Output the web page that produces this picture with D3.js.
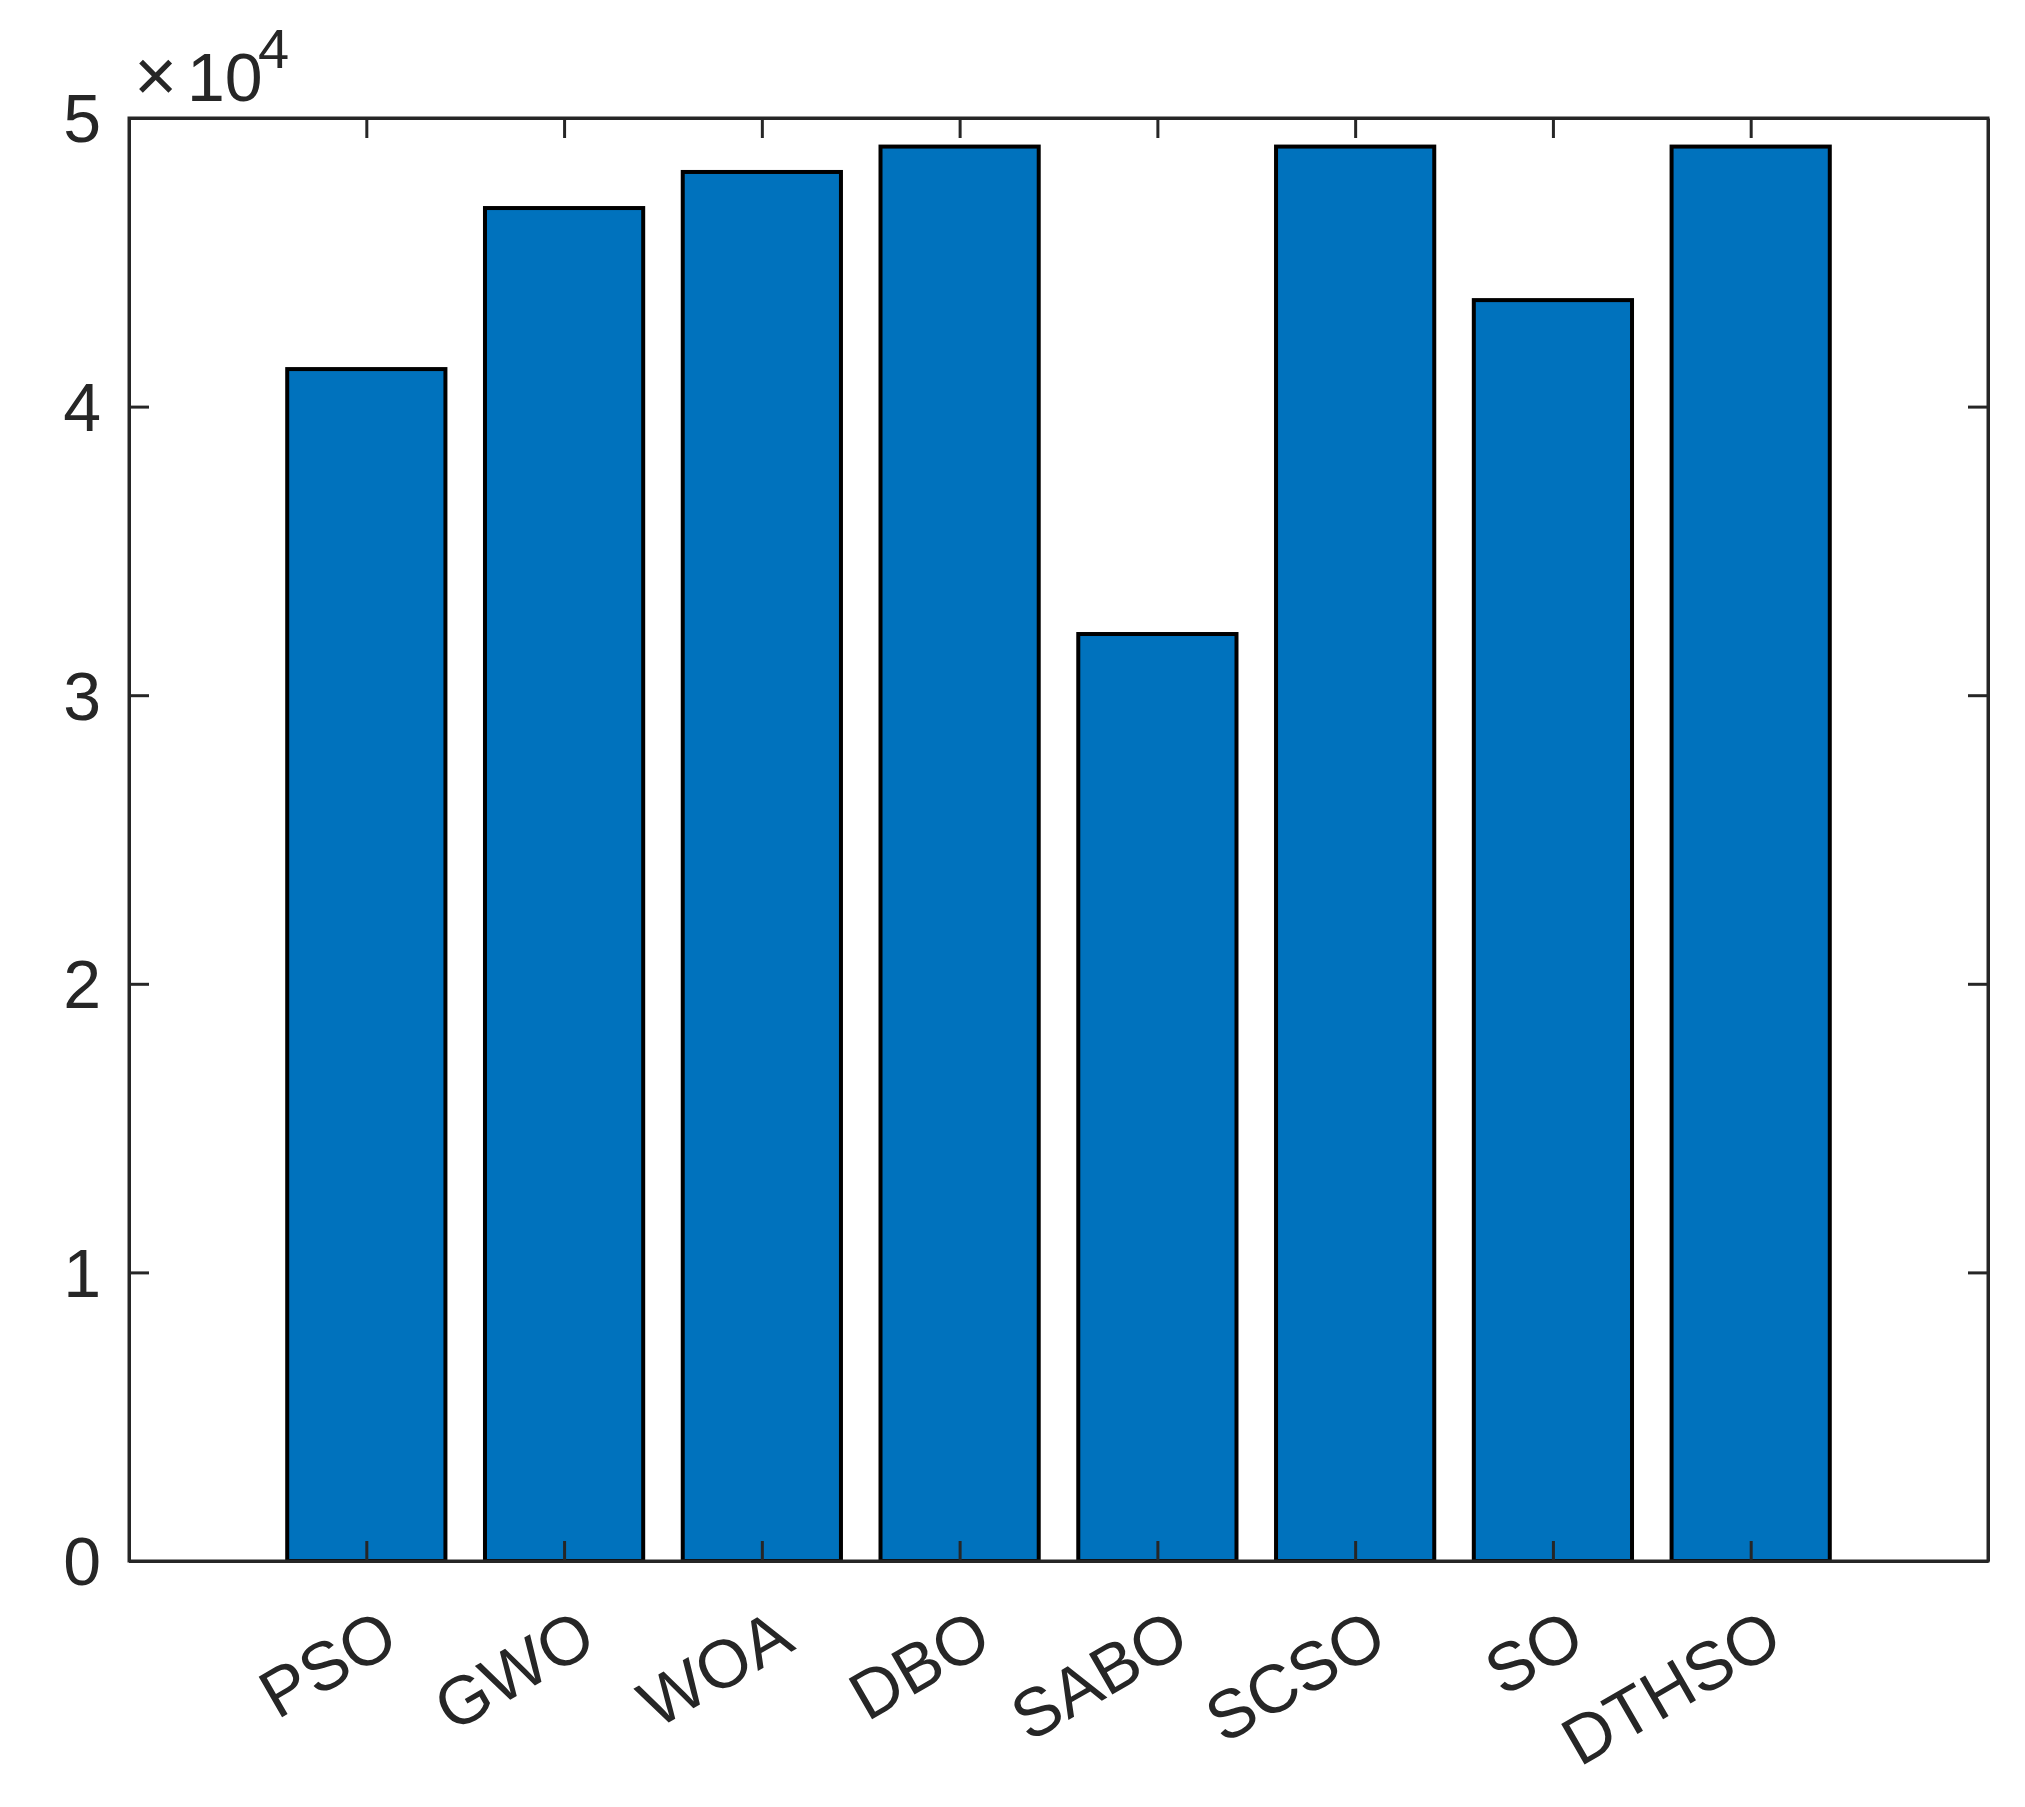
<!DOCTYPE html>
<html>
<head>
<meta charset="utf-8">
<script src="https://cdn.jsdelivr.net/npm/d3@7"></script>
<style>
  html, body { margin: 0; padding: 0; background: #fff; }
  svg { display: block; }
  text { font-family: "Liberation Sans", Arial, Helvetica, sans-serif; fill: #262626; }
</style>
</head>
<body>
<script>
const categories = ["PSO", "GWO", "WOA", "DBO", "SABO", "SCSO", "SO", "DTHSO"];
const values = [41300, 46880, 48130, 49010, 32120, 49010, 43690, 49010];
const yTicks = [0, 10000, 20000, 30000, 40000, 50000];
const yTickLabels = ["0", "1", "2", "3", "4", "5"];

(function () {
const W = 2025, H = 1807;
const pLeft = 129, pRight = 1988, pTop = 118, pBottom = 1561;
const axisColor = "#262626";
const fs = 68;

const svg = d3.select("body").append("svg").attr("width", W).attr("height", H);

const x = d3.scaleLinear().domain([-0.2, categories.length + 1.2]).range([pLeft, pRight]);
const y = d3.scaleLinear().domain([0, 50000]).range([pBottom, pTop]);
const barW = (x(1) - x(0)) * 0.8;

// bars
svg.append("g").selectAll("rect").data(values).join("rect")
  .attr("x", (d, i) => x(i + 1) - barW / 2)
  .attr("y", d => y(d))
  .attr("width", barW)
  .attr("height", d => y(0) - y(d))
  .attr("fill", "#0072BD")
  .attr("stroke", "#000")
  .attr("stroke-width", 4);

const tickLen = 20;
const idx = categories.map((c, i) => i + 1);

const xAxisB = d3.axisBottom(x).tickValues(idx).tickSize(-tickLen).tickFormat("").tickSizeOuter(0);
const xAxisT = d3.axisTop(x).tickValues(idx).tickSize(-tickLen).tickFormat("").tickSizeOuter(0);
const yAxisL = d3.axisLeft(y).tickValues(yTicks).tickSize(-tickLen).tickFormat("").tickSizeOuter(0);
const yAxisR = d3.axisRight(y).tickValues(yTicks).tickSize(-tickLen).tickFormat("").tickSizeOuter(0);

function style(g) {
  g.select(".domain").attr("stroke", axisColor).attr("stroke-width", 3);
  g.selectAll(".tick line").attr("stroke", axisColor).attr("stroke-width", 3);
}
svg.append("g").attr("transform", `translate(0,${pBottom})`).call(xAxisB).call(style);
svg.append("g").attr("transform", `translate(0,${pTop})`).call(xAxisT).call(style);
svg.append("g").attr("transform", `translate(${pLeft},0)`).call(yAxisL).call(style);
svg.append("g").attr("transform", `translate(${pRight},0)`).call(yAxisR).call(style);

svg.append("rect").attr("x", pLeft).attr("y", pTop).attr("width", pRight - pLeft).attr("height", pBottom - pTop)
  .attr("fill", "none").attr("stroke", axisColor).attr("stroke-width", 3);

// y tick labels
svg.append("g").selectAll("text").data(yTicks).join("text")
  .attr("x", pLeft - 28)
  .attr("y", d => y(d))
  .attr("dy", "0.36em")
  .attr("text-anchor", "end")
  .attr("font-size", fs)
  .text((d, i) => yTickLabels[i]);

// x tick labels rotated
svg.append("g").selectAll("text").data(categories).join("text")
  .attr("text-anchor", "end")
  .attr("font-size", fs)
  .attr("dy", "0.36em")
  .attr("transform", (d, i) => `translate(${x(i + 1) + 23},${pBottom + 66}) rotate(-30)`)
  .text(d => d);

// exponent label
svg.append("text").attr("x", 134).attr("y", 101).attr("font-size", 74).text("×");
svg.append("text").attr("x", 187).attr("y", 101).attr("font-size", fs).text("10");
svg.append("text").attr("x", 258).attr("y", 68).attr("font-size", 56).text("4");
})();
</script>
</body>
</html>
